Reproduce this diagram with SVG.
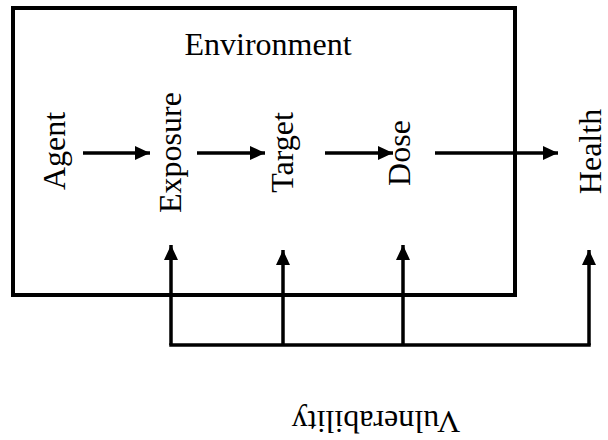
<svg xmlns="http://www.w3.org/2000/svg" width="608" height="440" viewBox="0 0 608 440">
<style>
text{font-family:"Liberation Serif","Times New Roman",serif;font-size:32px;fill:#000;text-anchor:middle}
.ln{stroke:#000;stroke-width:3.5;fill:none}
.box{stroke:#000;stroke-width:4;fill:none}
</style>
<defs>
<marker id="ah" markerUnits="userSpaceOnUse" markerWidth="16" markerHeight="16" viewBox="0 0 16 16" refX="15" refY="8" orient="auto">
<path d="M0,1 L15,8 L0,15 Z" fill="#000"/>
</marker>
</defs>
<g id="environment">
<rect class="box" x="13" y="8" width="502" height="287"/>
<text x="268" y="55">Environment</text>
</g>
<g id="agent"><text x="65" y="151" transform="rotate(-90 65 151)">Agent</text></g>
<g id="exposure"><text x="181" y="152.5" transform="rotate(-90 181 152.5)">Exposure</text></g>
<g id="target"><text x="293" y="152.5" transform="rotate(-90 293 152.5)">Target</text></g>
<g id="dose"><text x="410" y="153" transform="rotate(-90 410 153)">Dose</text></g>
<g id="health"><text x="601" y="151.5" transform="rotate(-90 601 151.5)">Health</text></g>
<g id="vulnerability"><text x="376" y="411" transform="rotate(180 376 411)">Vulnerability</text></g>
<g id="connectors">
<line class="ln" x1="83" y1="153" x2="150" y2="153" marker-end="url(#ah)"/>
<line class="ln" x1="197" y1="153" x2="265" y2="153" marker-end="url(#ah)"/>
<line class="ln" x1="325" y1="153" x2="393" y2="153" marker-end="url(#ah)"/>
<line class="ln" x1="435" y1="153" x2="558" y2="153" marker-end="url(#ah)"/>
<path class="ln" d="M171,345 H589" stroke-linecap="square"/>
<line class="ln" x1="171" y1="345" x2="171" y2="245" marker-end="url(#ah)"/>
<line class="ln" x1="283" y1="345" x2="283" y2="250" marker-end="url(#ah)"/>
<line class="ln" x1="403" y1="345" x2="403" y2="245" marker-end="url(#ah)"/>
<line class="ln" x1="589" y1="345" x2="589" y2="250" marker-end="url(#ah)"/>
</g>
</svg>
